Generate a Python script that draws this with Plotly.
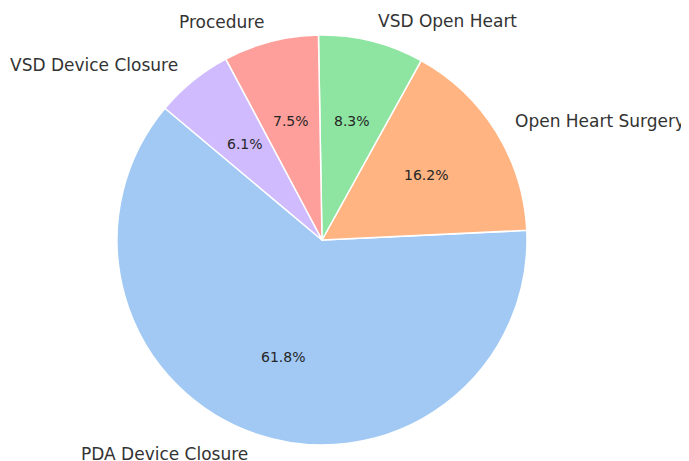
import math
import plotly.graph_objects as go

# slice data, in the order the wedges are drawn (counterclockwise from 140 deg)
labels = ['PDA Device Closure', 'Open Heart Surgery', 'VSD Open Heart',
          'Procedure', 'VSD Device Closure']
shares = [61.8, 16.2, 8.3, 7.5, 6.1]
colors = ['#a1c9f4', '#ffb482', '#8de5a1', '#ff9f9b', '#d0bbff']

W, H = 689, 461
# the page body has an 8px margin, so shift the drawing back by that much
off = 8
cx, cy, r = 322 - off, 240 - off, 205     # pie centre / radius in pixels
start_angle = 140                         # matplotlib-style startangle

total = sum(shares)
first_span = 360 * shares[0] / total

fig = go.Figure()

# plotly's counterclockwise pie ends its first slice at `rotation`
fig.add_trace(go.Pie(
    labels=labels,
    values=shares,
    sort=False,
    direction='counterclockwise',
    rotation=90 - (start_angle + first_span - 360),
    marker=dict(colors=colors, line=dict(color='white', width=1.5)),
    textinfo='none',
    hoverinfo='label+percent',
    showlegend=False,
    domain=dict(x=[(cx - r) / W, (cx + r) / W],
                y=[(H - cy - r) / H, (H - cy + r) / H]),
))

# labels outside at 1.1 r, percentages inside at 0.6 r
angle = start_angle
annotations = []
for lab, val in zip(labels, shares):
    span = 360 * val / total
    mid = math.radians(angle + span / 2)
    angle += span
    c, s = math.cos(mid), math.sin(mid)

    annotations.append(dict(
        x=(cx + 1.1 * r * c) / W, y=(H - cy + 1.1 * r * s) / H,
        xref='paper', yref='paper', text=lab, showarrow=False,
        xanchor='left' if c > 0 else 'right', yanchor='middle',
        font=dict(family='DejaVu Sans', size=17, color='#333333')))
    annotations.append(dict(
        x=(cx + 0.6 * r * c) / W, y=(H - cy + 0.6 * r * s) / H,
        xref='paper', yref='paper', text=f'{val:.1f}%', showarrow=False,
        xanchor='center', yanchor='middle',
        font=dict(family='DejaVu Sans', size=14, color='#262626')))

fig.update_layout(
    width=W,
    height=H,
    margin=dict(l=0, r=0, t=0, b=0),
    paper_bgcolor='white',
    plot_bgcolor='white',
    annotations=annotations,
)

fig.write_html("out.html")
